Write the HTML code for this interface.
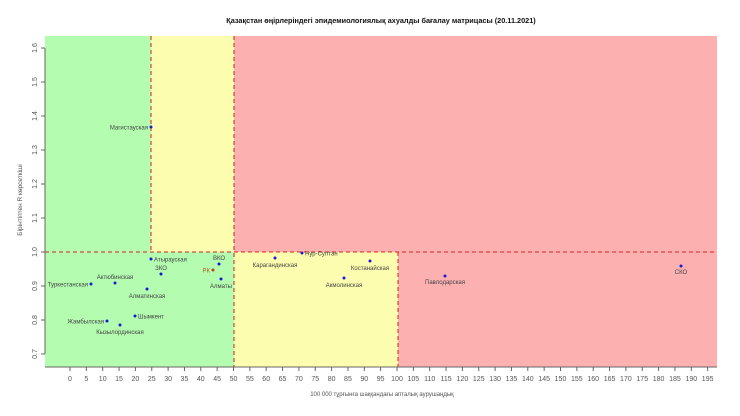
<!DOCTYPE html>
<html><head><meta charset="utf-8"><style>
html,body{margin:0;padding:0;background:#fff;}
svg{display:block;font-family:"Liberation Sans",sans-serif;}
.t{font-size:7px;fill:#555;}
.l{font-size:6px;fill:#444;}
</style></head><body>
<svg width="740" height="416" viewBox="0 0 740 416">
<text x="381" y="23" text-anchor="middle" font-size="7.3" font-weight="bold" fill="#111">Қазақстан өңірлеріндегі эпидемиологиялық ахуалды бағалау матрицасы  (20.11.2021)</text>
<rect x="45" y="36" width="106" height="216" fill="#b3fcb0"/>
<rect x="151" y="36" width="83" height="216" fill="#fdfdb0"/>
<rect x="234" y="36" width="483" height="216" fill="#fcb0b0"/>
<rect x="45" y="252" width="189" height="115" fill="#b3fcb0"/>
<rect x="234" y="252" width="164" height="115" fill="#fdfdb0"/>
<rect x="398" y="252" width="319" height="115" fill="#fcb0b0"/>
<g stroke="#d62020" stroke-width="1" stroke-dasharray="4,3" fill="none">
<line x1="151" y1="36" x2="151" y2="252"/>
<line x1="234" y1="36" x2="234" y2="367"/>
<line x1="398" y1="252" x2="398" y2="367"/>
<line x1="45" y1="252" x2="717" y2="252"/>
</g>
<g stroke="#666" stroke-width="1">
<line x1="45" y1="48" x2="45" y2="354"/>
<line x1="41" y1="48" x2="45" y2="48"/><line x1="41" y1="82" x2="45" y2="82"/>
<line x1="41" y1="116" x2="45" y2="116"/><line x1="41" y1="150" x2="45" y2="150"/>
<line x1="41" y1="184" x2="45" y2="184"/><line x1="41" y1="218" x2="45" y2="218"/>
<line x1="41" y1="252" x2="45" y2="252"/><line x1="41" y1="286" x2="45" y2="286"/>
<line x1="41" y1="320" x2="45" y2="320"/><line x1="41" y1="354" x2="45" y2="354"/>
<line x1="45" y1="367" x2="717" y2="367"/>
</g>
<g class="t" text-anchor="middle">
<text transform="translate(37,48) rotate(-90)">1.6</text>
<text transform="translate(37,82) rotate(-90)">1.5</text>
<text transform="translate(37,116) rotate(-90)">1.4</text>
<text transform="translate(37,150) rotate(-90)">1.3</text>
<text transform="translate(37,184) rotate(-90)">1.2</text>
<text transform="translate(37,218) rotate(-90)">1.1</text>
<text transform="translate(37,252) rotate(-90)">1.0</text>
<text transform="translate(37,286) rotate(-90)">0.9</text>
<text transform="translate(37,320) rotate(-90)">0.8</text>
<text transform="translate(37,354) rotate(-90)">0.7</text>
</g>
<text transform="translate(22,200) rotate(-90)" text-anchor="middle" font-size="6.5" fill="#555">Бірінтіптен R көрсеткіші</text>
<g id="xt" stroke="#666"></g>
<g id="xl" class="t" text-anchor="middle"></g>
<text x="382" y="396" text-anchor="middle" font-size="6" fill="#555">100 000 тұрғынға шаққандағы апталық аурушаңдық</text>
<g fill="#1a1ad8">
<circle cx="151" cy="127" r="1.5"/><circle cx="151" cy="259" r="1.5"/>
<circle cx="219" cy="264" r="1.5"/><circle cx="161" cy="274" r="1.5"/>
<circle cx="221" cy="279" r="1.5"/><circle cx="115" cy="283" r="1.5"/>
<circle cx="91" cy="284" r="1.5"/><circle cx="147" cy="289" r="1.5"/>
<circle cx="135" cy="316" r="1.5"/><circle cx="107" cy="321" r="1.5"/>
<circle cx="120" cy="325" r="1.5"/><circle cx="275" cy="258" r="1.5"/>
<circle cx="302" cy="253" r="1.5"/><circle cx="370" cy="261" r="1.5"/>
<circle cx="344" cy="278" r="1.5"/><circle cx="445" cy="276" r="1.5"/>
<circle cx="681" cy="266" r="1.5"/>
</g>
<circle cx="213" cy="270" r="1.5" fill="#c0401a"/>
<g class="l">
<text x="148" y="129.5" text-anchor="end">Магистауская</text>
<text x="154" y="261.5">Атырауская</text>
<text x="219" y="260" text-anchor="middle">ВКО</text>
<text x="161" y="270" text-anchor="middle">ЗКО</text>
<text x="210" y="272.5" text-anchor="end" fill="#b0602a">РК</text>
<text x="221" y="288" text-anchor="middle">Алматы</text>
<text x="115" y="279" text-anchor="middle">Актюбинская</text>
<text x="88" y="286.5" text-anchor="end">Туркестанская</text>
<text x="147" y="298" text-anchor="middle">Алматинская</text>
<text x="138" y="318.5">Шымкент</text>
<text x="104" y="323.5" text-anchor="end">Жамбылская</text>
<text x="120" y="334" text-anchor="middle">Кызылординская</text>
<text x="275" y="267" text-anchor="middle">Карагандинская</text>
<text x="305" y="255.5">Нур-Султан</text>
<text x="370" y="270" text-anchor="middle">Костанайская</text>
<text x="344" y="287" text-anchor="middle">Акмолинская</text>
<text x="445" y="284" text-anchor="middle">Павлодарская</text>
<text x="681" y="274" text-anchor="middle">СКО</text>
</g>
</svg>
<script>
var xt=document.getElementById('xt'),xl=document.getElementById('xl'),ns='http://www.w3.org/2000/svg';
for(var v=0;v<=195;v+=5){var x=70+v*3.27;
var l=document.createElementNS(ns,'line');l.setAttribute('x1',x);l.setAttribute('x2',x);l.setAttribute('y1',367);l.setAttribute('y2',371);xt.appendChild(l);
var t=document.createElementNS(ns,'text');t.setAttribute('x',x);t.setAttribute('y',381);t.textContent=v;xl.appendChild(t);}
</script>
</body></html>
